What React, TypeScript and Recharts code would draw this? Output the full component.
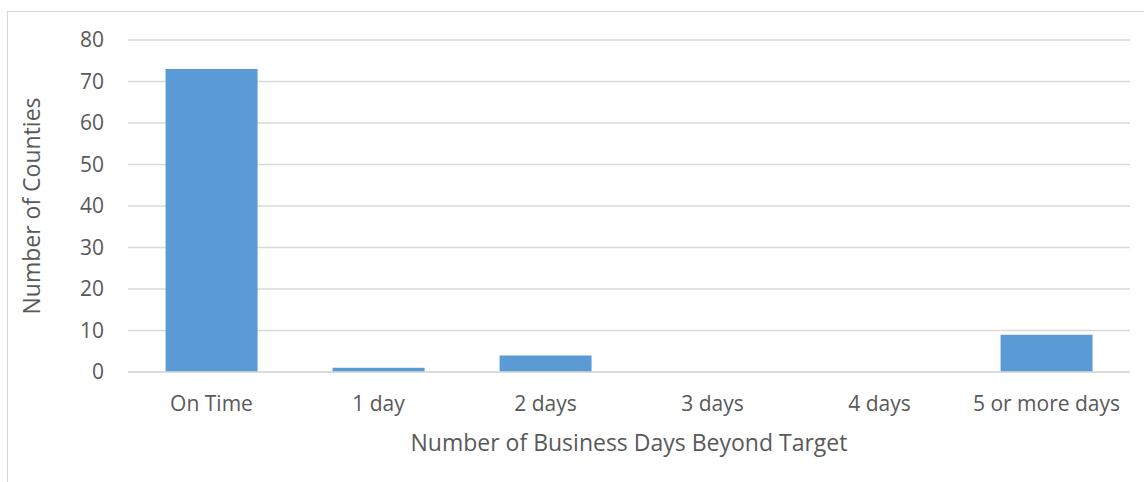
import { BarChart, Bar, XAxis, YAxis, CartesianGrid } from "recharts";

const categories = ["On Time", "1 day", "2 days", "3 days", "4 days", "5 or more days"];
const counties = [73, 1, 4, 0, 0, 9];
const yTicks = [0, 10, 20, 30, 40, 50, 60, 70, 80];

const data = categories.map((name, i) => ({ name, counties: counties[i] }));

const FONT = "'Open Sans', sans-serif";
const TEXT = "#595959";

const YLabel = ({ viewBox }: any) => {
  const x = viewBox.x + 31;
  const y = viewBox.y + viewBox.height / 2;
  return (
    <text
      x={x}
      y={y}
      transform={`rotate(-90, ${x}, ${y})`}
      textAnchor="middle"
      dominantBaseline="central"
      fill={TEXT}
      fontSize={23}
      fontFamily={FONT}
    >
      Number of Counties
    </text>
  );
};

const XLabel = ({ viewBox }: any) => (
  <text
    x={viewBox.x + viewBox.width / 2}
    y={viewBox.y + 70}
    textAnchor="middle"
    dominantBaseline="central"
    fill={TEXT}
    fontSize={23}
    fontFamily={FONT}
  >
    Number of Business Days Beyond Target
  </text>
);

export default function App() {
  return (
    <div style={{ position: "fixed", left: 0, top: 0, width: 1144, height: 482, background: "#fff", overflow: "hidden" }}>
      <div
        style={{
          position: "absolute",
          left: 7,
          top: 11,
          width: 1200,
          height: 520,
          border: "1px solid #d9d9d9",
        }}
      />
      <BarChart
        width={1144}
        height={482}
        data={data}
        margin={{ top: 40, right: 14, bottom: 0, left: 0 }}
        barCategoryGap="22.5%"
        style={{ position: "absolute", left: 0, top: 0 }}
      >
        <CartesianGrid vertical={false} stroke="#d9d9d9" strokeWidth={1.5} />
        <XAxis
          dataKey="name"
          height={110}
          axisLine={{ stroke: "#d9d9d9", strokeWidth: 1.5 }}
          tickLine={false}
          tickSize={0}
          tickMargin={24}
          tick={{ fill: TEXT, fontSize: 21, fontFamily: FONT }}
          label={<XLabel />}
        />
        <YAxis
          width={128}
          domain={[0, 80]}
          ticks={yTicks}
          axisLine={false}
          tickLine={false}
          tickSize={0}
          tickMargin={24}
          tick={{ fill: TEXT, fontSize: 21, fontFamily: FONT }}
          label={<YLabel />}
        />
        <Bar dataKey="counties" fill="#5b9bd5" isAnimationActive={false} />
      </BarChart>
    </div>
  );
}
